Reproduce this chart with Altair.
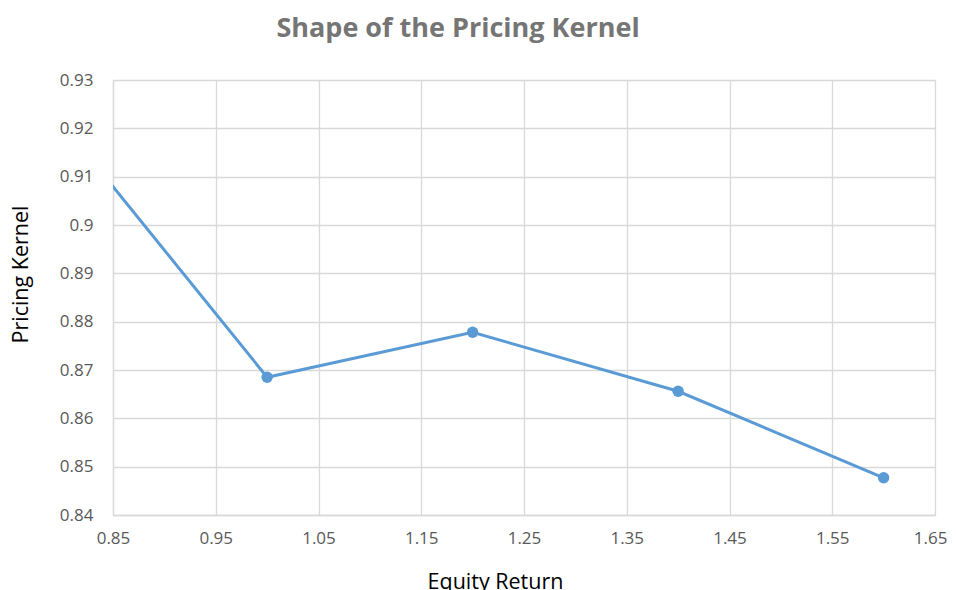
import altair as alt
import pandas as pd

equity_return = [0.8, 1.0, 1.2, 1.4, 1.6]
pricing_kernel = [0.9211, 0.8685, 0.8778, 0.8656, 0.8477]
x_ticks = [0.85, 0.95, 1.05, 1.15, 1.25, 1.35, 1.45, 1.55, 1.65]
y_ticks = [0.84, 0.85, 0.86, 0.87, 0.88, 0.89, 0.9, 0.91, 0.92, 0.93]

df = pd.DataFrame({"x": equity_return, "y": pricing_kernel})

FONT = "Open Sans"
BLUE = "#5B9BD5"

last_test = "datum.value >= 1.649"
x_enc = alt.X("x:Q", scale=alt.Scale(domain=[0.85, 1.65], nice=False, zero=False),
              axis=alt.Axis(values=x_ticks, title="Equity Return", format=".2f",
                            labelFlush=False, labelOverlap=False,
                            labelAlign={"condition": {"test": last_test, "value": "right"}, "value": "center"},
                            labelOffset={"condition": {"test": last_test, "value": 12}, "value": 0},
                            titleX=382, titleY=56, titleBaseline="top", titleAlign="center",
                            titleAnchor="start"))
y_enc = alt.Y("y:Q", scale=alt.Scale(domain=[0.84, 0.93], nice=False, zero=False),
              axis=alt.Axis(values=y_ticks, title="Pricing Kernel", format="~g",
                            labelFlush=False, labelOverlap=False,
                            titleX=-103, titleY=194, titleBaseline="top", titleAlign="center",
                            titleAngle=-90, titleAnchor="start"))

line = alt.Chart(df).mark_line(color=BLUE, strokeWidth=3, clip=True).encode(x=x_enc, y=y_enc)
pts = alt.Chart(df).mark_point(color=BLUE, filled=True, opacity=1, size=130, clip=True).encode(x="x:Q", y="y:Q")

chart = (line + pts).properties(
    width=822, height=435,
    padding={"left": 105, "top": 72, "right": 13, "bottom": 75},
    autosize=alt.AutoSizeParams(type="none"),
    title=alt.TitleParams("Shape of the Pricing Kernel", font=FONT, fontSize=27, fontWeight="bold",
                          color="#757575", anchor="middle", dx=-66, offset=28),
).configure_view(stroke=None).configure_axis(
    labelFont=FONT, titleFont=FONT, labelFontSize=17, titleFontSize=21.5,
    labelColor="#595959", titleColor="#000000", titleFontWeight="normal",
    gridColor="#D9D9D9", gridWidth=1.3, domainColor="#D9D9D9", domainWidth=1.3,
    ticks=False,
).configure_axisLeft(labelPadding=20).configure_axisBottom(labelPadding=15)

chart.save("out.html", embed_options={"renderer": "svg", "actions": False})
